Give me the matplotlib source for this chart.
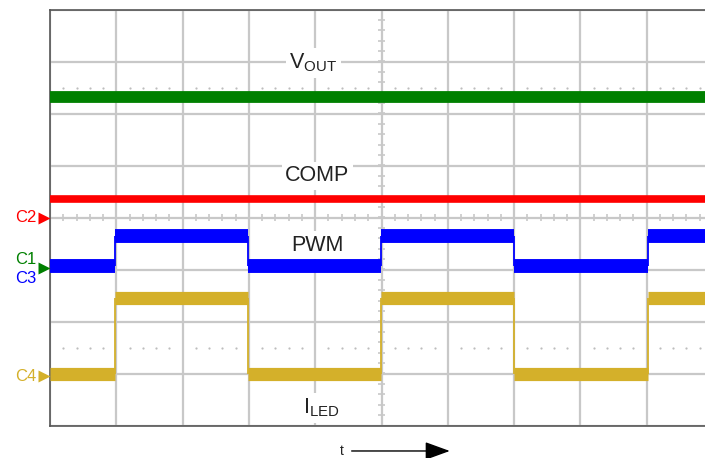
""" scope.py: oscilloscope capture of VOUT, COMP, PWM and ILED. """

import matplotlib as mpl
import matplotlib.pyplot as plt
import numpy as np

# Trace levels (in screen divisions, 0 = centre line)
VOUT_LEVEL = 2.32
COMP_LEVEL = 0.35
PWM_LEVELS = [-0.94, -0.36]     # low, high
ILED_LEVELS = [-3.0, -1.54]     # low, high
EDGES = [0.98, 2.98, 4.99, 7.0, 9.02]   # switching instants (divisions)

# Channel reference markers
CHANNELS = ['C2', 'C1', 'C3', 'C4']
CH_LABEL_Y = [0.0, -0.80, -1.18, -3.05]
MARKER_Y = [0.0, -0.98, -3.05]

# Trace names
TRACE_NAMES = [r'$\mathregular{V_{OUT}}$', 'COMP', 'PWM', r'$\mathregular{I_{LED}}$']

GRID_COLOR = '#c8c8c8'
FRAME_COLOR = '#555555'
GREEN = '#008000'
RED = '#ff0000'
BLUE = '#0000ff'
YELLOW = '#d4b02a'
TEXT_COLOR = '#222222'

mpl.rcParams['font.family'] = ['Liberation Sans', 'DejaVu Sans']

fig = plt.figure(figsize=(7.05, 4.58), dpi=100)
ax = fig.add_axes([50 / 705, 32.5 / 458, 663 / 705, 416 / 458])
ax.set_xlim(0, 10)
ax.set_ylim(-4, 4)

# Graticule
ax.set_xticks(range(11))
ax.set_yticks(range(-4, 5))
ax.tick_params(length=0, labelbottom=False, labelleft=False)
ax.grid(True, color=GRID_COLOR, linewidth=1.6, zorder=0)
ax.set_axisbelow(True)
for side in ['left', 'top', 'bottom']:
    ax.spines[side].set_color(FRAME_COLOR)
    ax.spines[side].set_linewidth(1.2)
ax.spines['right'].set_visible(False)

# Minor ticks on the centre lines
minor_x = np.arange(0, 10.01, 0.2)
minor_y = np.arange(-4, 4.01, 0.2)
ax.vlines(minor_x, -0.06, 0.06, color=GRID_COLOR, linewidth=1.2, zorder=1)
ax.hlines(minor_y, 4.947, 5.053, color=GRID_COLOR, linewidth=1.2, zorder=1)

# Dotted rows at +/- 2.5 divisions
dot_x = [x for x in minor_x if abs(x - round(x)) > 1e-6]
for yy in [2.5, -2.5]:
    ax.plot(dot_x, [yy] * len(dot_x), ls='none', marker='o', ms=1.6,
            color='#bdbdbd', mec='none', zorder=1)

# Flat traces
lv = ax.hlines([VOUT_LEVEL], 0, 10, color=GREEN, linewidth=8.5, zorder=3)
lc = ax.hlines([COMP_LEVEL], 0, 10, color=RED, linewidth=5.5, zorder=3)
lv.set_capstyle('butt')
lc.set_capstyle('butt')

# Switching traces
bounds = [0] + EDGES + [10]
for levels, color, lw in [(PWM_LEVELS, BLUE, 10), (ILED_LEVELS, YELLOW, 9.5)]:
    ys = [levels[i % 2] for i in range(len(bounds) - 1)]
    seg = ax.hlines(ys, bounds[:-1], bounds[1:], color=color, linewidth=lw, zorder=3)
    seg.set_capstyle('butt')
    ax.vlines(EDGES, levels[0], levels[1], color=color, linewidth=1.3, zorder=3)

# Trace names
name_pos = [(3.97, 2.97), (4.03, 0.80), (4.03, -0.53), (4.1, -3.66)]
for name, (x, y) in zip(TRACE_NAMES, name_pos):
    ax.text(x, y, name, fontsize=15.5, color=TEXT_COLOR, ha='center', va='center',
            zorder=4, bbox=dict(facecolor='white', edgecolor='none', pad=2.5))

# Channel labels and reference markers
ch_colors = [RED, GREEN, BLUE, YELLOW]
for name, y, c in zip(CHANNELS, CH_LABEL_Y, ch_colors):
    ax.text(-0.21, y, name, fontsize=12, color=c, ha='right', va='center',
            clip_on=False)
for y, c in zip(MARKER_Y, [RED, GREEN, YELLOW]):
    ax.plot([-0.09], [y], marker='>', ms=9, color=c, mec='none', clip_on=False,
            zorder=5)

# Time arrow
ax.text(4.4, -4.49, 't', fontsize=10, color=TEXT_COLOR, ha='center', va='center',
        clip_on=False)
ax.annotate('', xy=(6.03, -4.49), xytext=(4.55, -4.49), xycoords='data',
            annotation_clip=False,
            arrowprops=dict(arrowstyle='-|>,head_length=1.1,head_width=0.4',
                            color='black', lw=1, mutation_scale=14,
                            shrinkA=0, shrinkB=0))

fig.savefig('out.png', dpi=100)
